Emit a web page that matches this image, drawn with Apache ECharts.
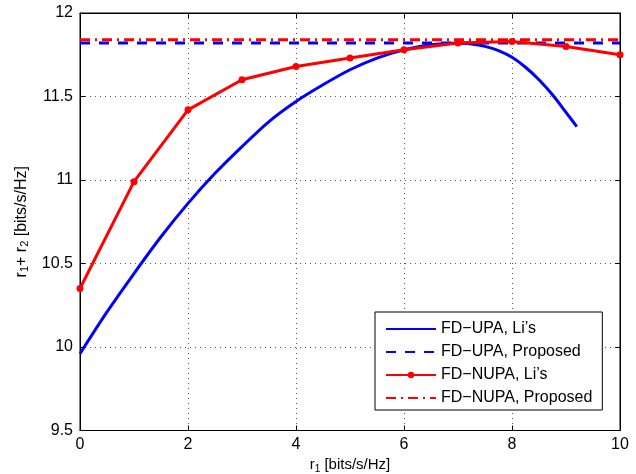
<!DOCTYPE html>
<html>
<head>
<meta charset="utf-8">
<script src="https://cdn.jsdelivr.net/npm/echarts@6/dist/echarts.min.js"></script>
<style>html,body{margin:0;padding:0;background:#fff;}#c{width:636px;height:474px;}</style>
</head>
<body>
<div id="c"></div>
<script>
// Data
const upaLiX = [0, 0.5, 1, 1.5, 2, 2.5, 3, 3.5, 4, 4.5, 5, 5.5, 6, 6.5, 7, 7.25, 7.5, 7.75, 8, 8.25, 8.5, 8.75, 9, 9.2];
const upaLiY = [9.96, 10.21, 10.44, 10.66, 10.86, 11.04, 11.20, 11.35, 11.47, 11.57, 11.66, 11.73, 11.78, 11.81, 11.82, 11.815, 11.80, 11.775, 11.735, 11.675, 11.60, 11.51, 11.405, 11.32];
const nupaLiX = [0, 1, 2, 3, 4, 5, 6, 7, 8, 9, 10];
const nupaLiY = [10.35, 10.99, 11.42, 11.60, 11.68, 11.73, 11.78, 11.82, 11.83, 11.80, 11.75];
const upaPropX = [0, 10];
const upaPropY = [11.82, 11.82];
const nupaPropX = [0, 10];
const nupaPropY = [11.84, 11.84];
const xTicks = [0, 2, 4, 6, 8, 10];
const yTicks = [9.5, 10, 10.5, 11, 11.5, 12];
const seriesNames = ["FD\u2212UPA, Li\u2019s", "FD\u2212UPA, Proposed", "FD\u2212NUPA, Li\u2019s", "FD\u2212NUPA, Proposed"];

const zip = (xs, ys) => xs.map((x, i) => [x, ys[i]]);
const font = "'Liberation Sans', Arial, sans-serif";
const clear = 'rgba(0,0,0,0)';

const chart = echarts.init(document.getElementById('c'), null, {renderer: 'canvas'});
const gridLine = {show: true, lineStyle: {color: '#555', type: [1, 4], width: 1}};
chart.setOption({
  animation: false,
  backgroundColor: '#fff',
  grid: {left: 80, top: 13, right: 16, bottom: 43.5, show: true, borderColor: '#000', borderWidth: 1, backgroundColor: '#fff',
         containLabel: false, outerBoundsMode: 'none'},
  xAxis: [{
    type: 'value', min: xTicks[0], max: xTicks[xTicks.length - 1], interval: 2,
    axisLine: {show: true, onZero: false, lineStyle: {color: '#000', width: 1}},
    axisTick: {show: true, inside: true, length: 5, lineStyle: {color: '#000'}},
    axisLabel: {color: '#000', fontFamily: font, fontSize: 16, margin: 6},
    splitLine: gridLine,
    name: '{a|r}{s|1}{a| [bits/s/Hz]}',
    nameLocation: 'middle', nameGap: 25,
    nameTextStyle: {rich: {a: {fontFamily: font, fontSize: 15, color: '#000'}, s: {fontFamily: font, fontSize: 10, color: '#000', padding: [8, 0, 0, 0]}}}
  }, {
    type: 'value', position: 'top', min: 0, max: 10, interval: 2,
    axisLine: {show: true, onZero: false, lineStyle: {color: '#000'}},
    axisTick: {show: true, inside: true, length: 5, lineStyle: {color: '#000'}},
    axisLabel: {show: false}, splitLine: {show: false}
  }],
  yAxis: [{
    type: 'value', min: yTicks[0], max: yTicks[yTicks.length - 1], interval: 0.5,
    axisLine: {show: true, onZero: false, lineStyle: {color: '#000', width: 1}},
    axisTick: {show: true, inside: true, length: 5, lineStyle: {color: '#000'}},
    axisLabel: {color: '#000', fontFamily: font, fontSize: 16, margin: 7},
    splitLine: gridLine,
    name: '{a|r}{s|1}{a|+ r}{s|2}{a| [bits/s/Hz]}',
    nameLocation: 'middle', nameGap: 49, nameRotate: 90,
    nameTextStyle: {rich: {a: {fontFamily: font, fontSize: 16, color: '#000'}, s: {fontFamily: font, fontSize: 11, color: '#000', padding: [8, 0, 0, 0]}}}
  }, {
    type: 'value', position: 'right', min: 9.5, max: 12, interval: 0.5,
    axisLine: {show: true, onZero: false, lineStyle: {color: '#000'}},
    axisTick: {show: true, inside: true, length: 5, lineStyle: {color: '#000'}},
    axisLabel: {show: false}, splitLine: {show: false}
  }],
  legend: {
    orient: 'vertical', left: 375, top: 312,
    width: 227,
    padding: [9, 10, 4, 10],
    itemWidth: 50, itemHeight: 8, itemGap: 7,
    backgroundColor: '#fff', borderColor: '#000', borderWidth: 1,
    textStyle: {fontFamily: font, fontSize: 16, color: '#000', width: 160},
    data: seriesNames
  },
  series: [
    {name: seriesNames[0], type: 'line', data: zip(upaLiX, upaLiY), smooth: 0.3, showSymbol: false, symbol: 'none',
     lineStyle: {color: '#0000ff', width: 3}, itemStyle: {color: clear, borderWidth: 0}, z: 2},
    {name: seriesNames[1], type: 'line', data: zip(upaPropX, upaPropY), showSymbol: false, symbol: 'none',
     lineStyle: {color: '#0000ff', width: 3, type: [10, 9]}, itemStyle: {color: clear, borderWidth: 0}, z: 3},
    {name: seriesNames[2], type: 'line', data: zip(nupaLiX, nupaLiY), symbol: 'circle', symbolSize: 7,
     lineStyle: {color: '#ff0000', width: 3}, itemStyle: {color: '#ff0000'}, z: 4},
    {name: seriesNames[3], type: 'line', data: zip(nupaPropX, nupaPropY), showSymbol: false, symbol: 'none',
     lineStyle: {color: '#ff0000', width: 3, type: [10, 5, 2, 5]}, itemStyle: {color: clear, borderWidth: 0}, z: 5}
  ]
});
</script>
</body>
</html>
